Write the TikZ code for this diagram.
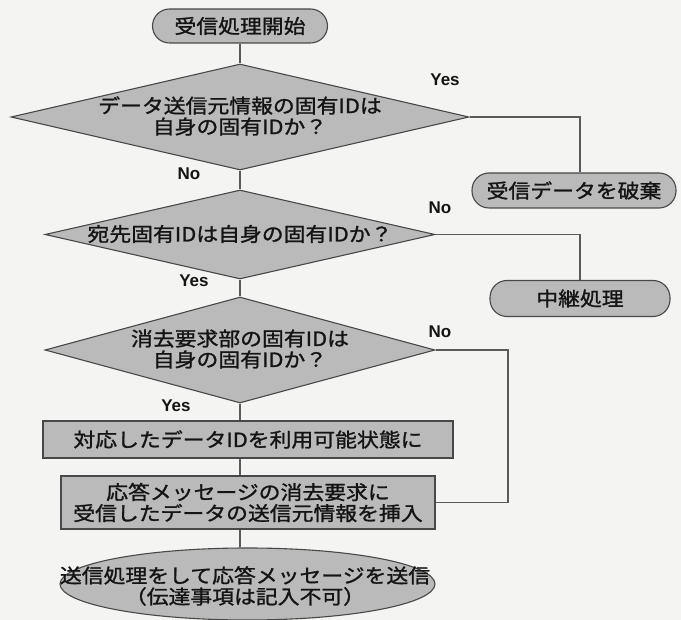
\documentclass[tikz,border=0pt]{standalone}
\usepackage{fontspec}
\setmainfont{Liberation Sans}
\newfontfamily\jp{Noto Sans CJK JP}[FakeStretch=1.12,FakeBold=1.3]
\usetikzlibrary{shapes.geometric}
\definecolor{bg}{RGB}{244,244,242}
\definecolor{shapefill}{RGB}{186,186,186}
\definecolor{edgecol}{RGB}{72,72,72}
\definecolor{wirecol}{RGB}{90,90,90}
\definecolor{ink}{RGB}{20,20,20}
\begin{document}
\begin{tikzpicture}[x=1pt,y=-1pt,
  jptext/.style={font=\jp\fontsize{19.5}{21}\selectfont, align=center, text=ink, inner sep=0pt},
  yn/.style={font=\fontsize{17}{17}\selectfont\bfseries, text=ink, inner sep=0pt},
  decision/.style={diamond, draw=edgecol, fill=shapefill, line width=1.1pt, inner sep=0pt},
  terminal/.style={rectangle, rounded corners=17pt, draw=edgecol, fill=shapefill, line width=1.1pt, inner sep=0pt, font=\jp\fontsize{19.5}{21}\selectfont, text=ink},
  process/.style={rectangle, draw=edgecol, fill=shapefill, line width=1.1pt, inner sep=0pt, font=\jp\fontsize{19.5}{21}\selectfont, align=center, text=ink},
  endterm/.style={ellipse, draw=edgecol, fill=shapefill, line width=1.1pt, inner sep=0pt},
  wire/.style={draw=wirecol, line width=1.1pt}]
\fill[bg] (0,0) rectangle (681,620);
\useasboundingbox (0,0) rectangle (681,620);

% nodes
\node[terminal, minimum width=175pt, minimum height=34pt] (s) at (240,26) {受信処理開始};
\node[decision, minimum width=458pt, minimum height=106pt] (d1) at (240,117) {};
\node[jptext] (d1t) at (240,116) {データ送信元情報の固有IDは\\自身の固有IDか？};
\node[terminal, minimum width=204pt, minimum height=35pt] (t1) at (574,190.5) {受信データを破棄};
\node[decision, minimum width=390pt, minimum height=89pt] (d2) at (240,234.5) {};
\node[jptext] (d2t) at (240,234) {宛先固有IDは自身の固有IDか？};
\node[terminal, minimum width=180pt, minimum height=36pt] (t2) at (580,298.5) {中継処理};
\node[decision, minimum width=390pt, minimum height=106pt] (d3) at (240,350) {};
\node[jptext] (d3t) at (240,349) {消去要求部の固有IDは\\自身の固有IDか？};
\node[process, minimum width=410pt, minimum height=37pt] (b1) at (248,439.5) {対応したデータIDを利用可能状態に};
\node[process, minimum width=374pt, minimum height=53pt] (b2) at (248,502.5) {応答メッセージの消去要求に\\受信したデータの送信元情報を挿入};
\node[endterm, minimum width=375pt, minimum height=72pt] (e) at (247.5,584) {};
\node[jptext] (et) at (245,586) {送信処理をして応答メッセージを送信\\（伝達事項は記入不可）};

% labels
\node[yn] (y1) at (445,80) {Yes};
\node[yn] (n1) at (189,174) {No};
\node[yn] (n2) at (440,208) {No};
\node[yn] (y2) at (194,281) {Yes};
\node[yn] (n3) at (440,332) {No};
\node[yn] (y3) at (176,406) {Yes};

\coordinate (c3) at (508,350);

% connectors
\draw[wire] (s.south) -- (d1.north);
\draw[wire] (d1.east) -| ([xshift=6pt]t1.north);
\draw[wire] (d1.south) -- (d2.north);
\draw[wire] (d2.east) -| (t2.north);
\draw[wire] (d2.south) -- (d3.north);
\draw[wire] (d3.south) -- (d3.south |- b1.north);
\draw[wire] (b1.south -| d3.south) -- (b2.north -| d3.south);
\draw[wire] (b2.south -| d3.south) -- (e.north -| d3.south);
\draw[wire] (d3.east) -- (c3) |- (b2.east);
\end{tikzpicture}
\end{document}
